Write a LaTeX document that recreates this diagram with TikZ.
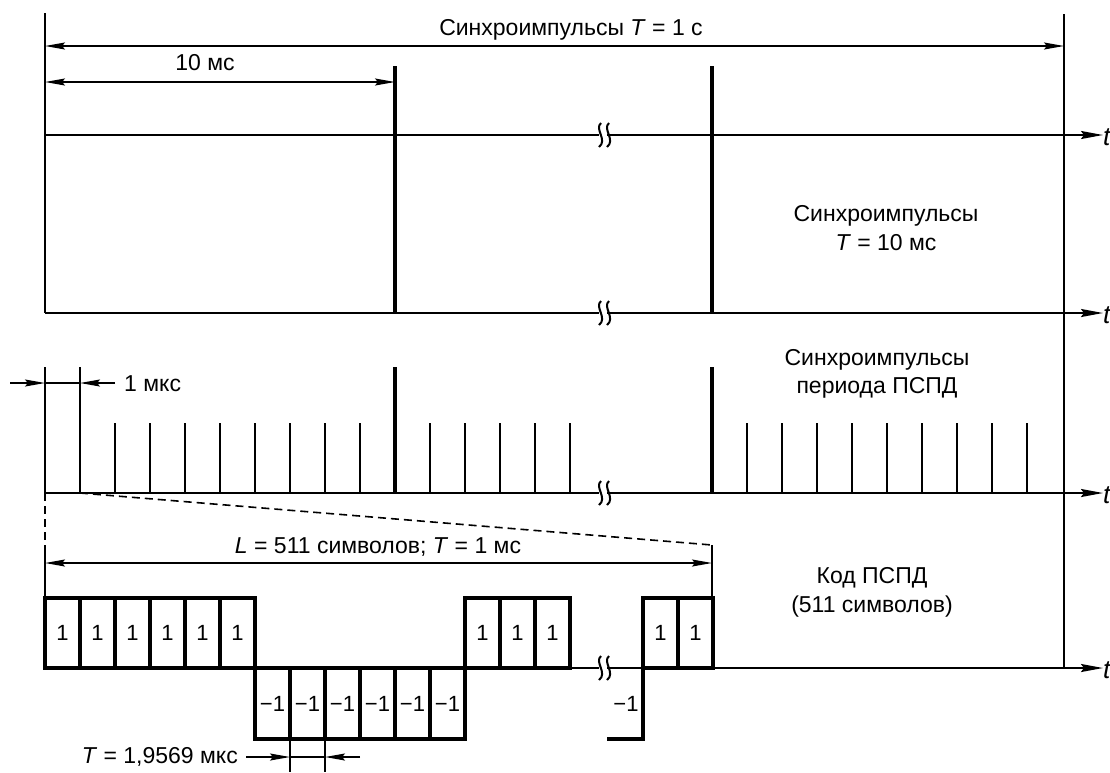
\documentclass[tikz,border=0pt]{standalone}
\usepackage{fontspec}
\setmainfont{Liberation Sans}
\usetikzlibrary{arrows.meta}
\tikzset{
  axisline/.style={line width=2pt,-{Stealth[length=22pt,width=8pt,inset=3pt]}},
  dimline/.style={line width=1.5pt,{Stealth[length=20pt,width=7pt,inset=3pt]}-{Stealth[length=20pt,width=7pt,inset=3pt]}},
  dimhalf/.style={line width=1.5pt,-{Stealth[length=20pt,width=7pt,inset=3pt]}},
  thinline/.style={line width=1.7pt},
  tallpulse/.style={line width=3.4pt},
  shortpulse/.style={line width=2.8pt},
  boxline/.style={line width=3.2pt},
  lbl/.style={font=\fontsize{23}{26}\selectfont, inner sep=0pt},
  tlbl/.style={font=\fontsize{26}{28}\selectfont, inner sep=0pt, anchor=west},
  boxlbl/.style={font=\fontsize{22}{25}\selectfont, inner sep=0pt},
  dashline/.style={line width=1.6pt, dash pattern=on 8pt off 5pt},
}
\newcommand\brkmark[2]{%
  \fill[white] (#1-4,#2-3) rectangle (#1+4,#2+3);
  \draw[line width=2pt] (#1-2,#2-12) .. controls (#1-9,#2-6) and (#1+5,#2+5) .. (#1-4,#2+12);
  \draw[line width=2pt] (#1+6,#2-12) .. controls (#1-1,#2-6) and (#1+13,#2+5) .. (#1+4,#2+12);
}
\begin{document}
\begin{tikzpicture}[x=1pt,y=-1pt]
\useasboundingbox (0,0) rectangle (1110,772);

% ---------- Row 1 ----------
\draw[thinline] (45,13) -- (45,135);
\draw[thinline] (1064,14) -- (1064,668);
\draw[dimline] (45,46) -- (1064,46);
\node[lbl] (r1) at (571,30) {Синхроимпульсы \textit{T} = 1 с};
\draw[axisline] (45,135) -- (1103,135);
\brkmark{603}{135}
\node[tlbl] (t1) at (1103,137) {\textit{t}};

% ---------- Row 2 ----------
\draw[thinline] (45,66) -- (45,313);
\draw[tallpulse] (395,66) -- (395,313);
\draw[tallpulse] (712,66) -- (712,313);
\draw[dimline] (45,82) -- (395,82);
\node[lbl] (r2a) at (205,63) {10 мс};
\draw[axisline] (45,313) -- (1103,313);
\brkmark{603}{313}
\node[tlbl] (t2) at (1103,315) {\textit{t}};
\node[lbl] (r2b) at (886,216) {Синхроимпульсы};
\node[lbl] (r2c) at (886,243) {\textit{T} = 10 мс};

% ---------- Row 3 ----------
\draw[thinline] (45,367) -- (45,493);
\draw[thinline] (80,367) -- (80,493);
\draw[dimhalf] (10,383) -- (45,383);
\draw[dimhalf] (115,383) -- (80,383);
\draw[line width=1.5pt] (45,383) -- (80,383);
\node[lbl, anchor=west] (r3a) at (124,384) {1 мкс};
\draw[tallpulse] (395,367) -- (395,493);
\draw[tallpulse] (712,367) -- (712,493);
\foreach \x in {115,150,185,220,255,290,325,360,430,465,500,535,570,747,782,817,852,887,922,957,992,1027}
  \draw[shortpulse] (\x,423) -- (\x,493);
\draw[axisline] (45,493) -- (1103,493);
\brkmark{603}{493}
\node[tlbl] (t3) at (1103,495) {\textit{t}};
\node[lbl] (r3b) at (877,360) {Синхроимпульсы};
\node[lbl] (r3c) at (877,388) {периода ПСПД};

% ---------- zoom lines ----------
\draw[dashline] (80,493) -- (712,545);
\draw[dashline] (45,493) -- (45,545);
\draw[thinline] (45,545) -- (45,598);
\draw[thinline] (712,545) -- (712,598);
\draw[dimline] (45,563) -- (712,563);
\node[lbl] (r4a) at (378,547) {\textit{L} = 511 символов; \textit{T} = 1 мс};

% ---------- Row 4 ----------
\draw[axisline] (45,668) -- (1103,668);
\brkmark{603}{668}
\node[tlbl] (t4) at (1103,670) {\textit{t}};
% positive boxes
\foreach \a in {45,80,115,150,185,220,465,500,535,643,678}{
  \draw[boxline] (\a,668) rectangle (\a+35,598);
  \node[boxlbl] at (\a+17.5,633) {1};
}
% negative boxes
\foreach \a in {255,290,325,360,395,430}{
  \draw[boxline] (\a,668) rectangle (\a+35,739);
  \node[boxlbl] at (\a+17.5,704) {−1};
}
% partial negative
\draw[boxline] (607,739) -- (643,739) -- (643,668);
\node[boxlbl] (m1) at (626,704) {−1};
\node[lbl] (r4b) at (872,578) {Код ПСПД};
\node[lbl] (r4c) at (872,607) {(511 символов)};

% ---------- bottom dimension ----------
\draw[thinline] (290,739) -- (290,772);
\draw[thinline] (325,739) -- (325,772);
\draw[dimhalf] (246,757) -- (290,757);
\draw[dimhalf] (360,757) -- (325,757);
\draw[line width=1.5pt] (290,757) -- (325,757);
\node[lbl, anchor=east] (r5) at (238,757) {\textit{T} = 1,9569 мкс};
\end{tikzpicture}
\end{document}
